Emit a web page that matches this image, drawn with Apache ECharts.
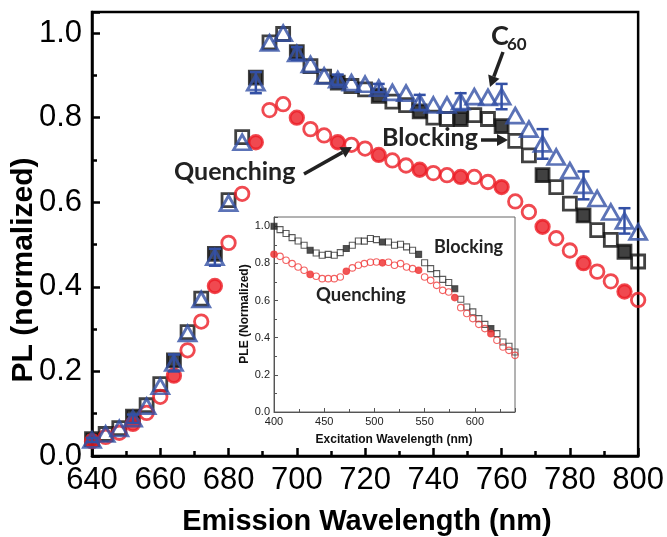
<!DOCTYPE html>
<html>
<head>
<meta charset="utf-8">
<script src="https://cdn.jsdelivr.net/npm/echarts@6.0.0/dist/echarts.min.js"></script>
<style>
  html, body { margin: 0; padding: 0; background: #fff; }
  #chart { width: 667px; height: 537px; }
</style>
</head>
<body>
<div id="chart"></div>
<script>
// emission spectra (main plot)
const emission = [640, 644, 648, 652, 656, 660, 664, 668, 672, 676, 680, 684, 688, 692, 696, 700, 704, 708, 712, 716, 720,
    724, 728, 732, 736, 740, 744, 748, 752, 756, 760, 764, 768, 772, 776, 780, 784, 788, 792, 796, 800];
const blocking = [0.040, 0.052, 0.066, 0.093, 0.120, 0.170, 0.226, 0.293, 0.372, 0.478, 0.605, 0.754, 0.895, 0.978, 0.998, 0.955, 0.922, 0.897, 0.883, 0.875, 0.867,
    0.852, 0.838, 0.830, 0.815, 0.800, 0.797, 0.797, 0.806, 0.797, 0.780, 0.745, 0.711, 0.664, 0.636, 0.597, 0.569, 0.534, 0.511, 0.483, 0.460];
const c60 = [0.038, 0.052, 0.065, 0.088, 0.118, 0.165, 0.220, 0.290, 0.370, 0.470, 0.598, 0.742, 0.883, 0.977, 1.000, 0.952, 0.926, 0.899, 0.890, 0.883, 0.879,
    0.870, 0.860, 0.858, 0.836, 0.830, 0.830, 0.838, 0.850, 0.848, 0.850, 0.805, 0.773, 0.738, 0.707, 0.675, 0.640, 0.609, 0.577, 0.556, 0.530];
const quenching = [0.035, 0.045, 0.055, 0.076, 0.102, 0.140, 0.190, 0.250, 0.318, 0.402, 0.504, 0.620, 0.742, 0.818, 0.832, 0.800, 0.773, 0.758, 0.742, 0.736, 0.727,
    0.712, 0.699, 0.687, 0.677, 0.669, 0.664, 0.660, 0.660, 0.648, 0.636, 0.602, 0.577, 0.542, 0.515, 0.486, 0.456, 0.436, 0.413, 0.389, 0.369];
// wavelengths that carry error bars (drawn as filled markers)
const errorAt = [640, 652, 664, 676, 688, 700, 712, 724, 736, 748, 760, 772, 784, 796];
const c60Err = [0.005, 0.010, 0.020, 0.020, 0.025, 0.015, 0.012, 0.010, 0.018, 0.020, 0.030, 0.035, 0.033, 0.030];

// excitation spectra (inset)
const excitation = [400, 406, 412, 418, 424, 430, 436, 442, 448, 454, 460, 466, 472, 478, 484, 490, 496, 502, 508, 514, 520,
    526, 532, 538, 544, 550, 556, 562, 568, 574, 580, 586, 592, 598, 604, 610, 616, 622, 628, 634, 640];
const pleBlocking = [1.000, 0.982, 0.961, 0.939, 0.921, 0.898, 0.871, 0.856, 0.844, 0.849, 0.844, 0.858, 0.880, 0.898, 0.921, 0.920, 0.934, 0.928, 0.915, 0.915, 0.898,
    0.903, 0.889, 0.871, 0.849, 0.804, 0.772, 0.745, 0.714, 0.697, 0.664, 0.607, 0.565, 0.539, 0.503, 0.472, 0.449, 0.422, 0.377, 0.354, 0.323];
const pleQuenching = [0.849, 0.838, 0.817, 0.799, 0.781, 0.763, 0.741, 0.731, 0.718, 0.718, 0.718, 0.727, 0.758, 0.776, 0.790, 0.799, 0.806, 0.808, 0.803, 0.806, 0.790,
    0.799, 0.781, 0.772, 0.763, 0.727, 0.709, 0.682, 0.655, 0.646, 0.616, 0.562, 0.530, 0.503, 0.472, 0.449, 0.422, 0.386, 0.350, 0.332, 0.305];
const pleErrorAt = [400, 436, 472, 508, 544, 580, 616];

const BLACK = '#111';
const BLUE = '#3350a5';
const RED = '#ec1c24';
const tickFont = '"Liberation Sans Narrow", "Liberation Sans"';
const noteFont = 'Lato';

const chart = echarts.init(document.getElementById('chart'), null, { renderer: 'canvas' });

let points = (xs, ys, marks, fill) => xs.map((x, i) => {
    let item = { value: [x, ys[i]] };
    if (marks.includes(x)) item.itemStyle = { color: fill };
    return item;
});

let errBars = (params, api) => {
    let x = api.value(0);
    let top = api.coord([x, api.value(2)]);
    let bot = api.coord([x, api.value(1)]);
    let st = { stroke: BLUE, lineWidth: 2.5 };
    return {
        type: 'group',
        children: [
            { type: 'line', shape: { x1: top[0], y1: top[1], x2: bot[0], y2: bot[1] }, style: st },
            { type: 'line', shape: { x1: top[0] - 6, y1: top[1], x2: top[0] + 6, y2: top[1] }, style: st },
            { type: 'line', shape: { x1: bot[0] - 6, y1: bot[1], x2: bot[0] + 6, y2: bot[1] }, style: st }
        ]
    };
};

let arrow = (x1, y1, x2, y2) => {
    let a = Math.atan2(y2 - y1, x2 - x1);
    let len = 11, hw = 6;
    let bx = x2 - len * Math.cos(a), by = y2 - len * Math.sin(a);
    let px = -Math.sin(a) * hw, py = Math.cos(a) * hw;
    return [
        { type: 'line', shape: { x1: x1, y1: y1, x2: bx, y2: by }, style: { stroke: '#222', lineWidth: 3.5 }, z: 50 },
        { type: 'polygon', shape: { points: [[x2, y2], [bx + px, by + py], [bx - px, by - py]] }, style: { fill: '#222' }, z: 50 }
    ];
};

let mainAxisCommon = {
    axisLine: { show: true, onZero: false, lineStyle: { color: '#000', width: 2.5 } },
    axisTick: { show: true, inside: true, length: 8, lineStyle: { color: '#000', width: 2.5 } },
    minorTick: { show: true, splitNumber: 2, length: 5, lineStyle: { color: '#000', width: 2.5 } },
    splitLine: { show: false },
    minorSplitLine: { show: false }
};

let insetAxisCommon = {
    axisLine: { show: true, onZero: false, lineStyle: { color: '#555', width: 1 } },
    axisTick: { show: true, inside: true, length: 4, lineStyle: { color: '#555', width: 1 } },
    minorTick: { show: true, splitNumber: 2, length: 3, lineStyle: { color: '#555', width: 1 } },
    splitLine: { show: false },
    minorSplitLine: { show: false }
};

const option = {
    backgroundColor: '#fff',
    animation: false,
    grid: [
        { left: 92, top: 12, right: 24, bottom: 81, show: true, borderColor: '#000', borderWidth: 2.5, backgroundColor: 'transparent' },
        { left: 274, top: 217, right: 152, bottom: 125, show: true, borderColor: '#666', borderWidth: 1, backgroundColor: '#fff' }
    ],
    xAxis: [
        Object.assign({
            type: 'value', gridIndex: 0, min: 640, max: 800, interval: 20,
            axisLabel: { fontFamily: tickFont, fontSize: 31, color: '#000', margin: 9 }
        }, mainAxisCommon),
        Object.assign({
            type: 'value', gridIndex: 1, min: 400, max: 640, interval: 50,
            axisLabel: { fontFamily: 'Liberation Sans', fontSize: 11, color: '#222', margin: 4, showMaxLabel: false }
        }, insetAxisCommon)
    ],
    yAxis: [
        Object.assign({
            type: 'value', gridIndex: 0, min: 0, max: 1.05, interval: 0.2,
            axisLabel: { fontFamily: tickFont, fontSize: 31, color: '#000', margin: 10, showMaxLabel: false,
                formatter: v => v.toFixed(1) }
        }, mainAxisCommon),
        Object.assign({
            type: 'value', gridIndex: 1, min: 0, max: 1.05, interval: 0.2,
            axisLabel: { fontFamily: 'Liberation Sans', fontSize: 11, color: '#222', margin: 4, showMaxLabel: false,
                formatter: v => v.toFixed(1) }
        }, insetAxisCommon)
    ],
    series: [
        {
            name: 'Blocking', type: 'scatter', xAxisIndex: 0, yAxisIndex: 0,
            symbol: 'rect', symbolSize: 13, z: 3,
            itemStyle: { color: 'rgba(255,255,255,0)', borderColor: BLACK, borderWidth: 2.8 },
            data: points(emission, blocking, errorAt, BLACK)
        },
        {
            name: 'Quenching', type: 'scatter', xAxisIndex: 0, yAxisIndex: 0,
            symbol: 'circle', symbolSize: 13.5, z: 3,
            itemStyle: { color: 'rgba(255,255,255,0)', borderColor: RED, borderWidth: 2.8 },
            data: points(emission, quenching, errorAt, RED)
        },
        {
            name: 'C60 err', type: 'custom', xAxisIndex: 0, yAxisIndex: 0, z: 4,
            renderItem: errBars,
            data: errorAt.map((x, i) => [x, c60[emission.indexOf(x)] - c60Err[i], c60[emission.indexOf(x)] + c60Err[i]])
        },
        {
            name: 'C60', type: 'scatter', xAxisIndex: 0, yAxisIndex: 0,
            symbol: 'triangle', symbolSize: [17, 15], z: 5,
            itemStyle: { color: 'rgba(255,255,255,0)', borderColor: BLUE, borderWidth: 2.8 },
            data: c60.map((v, i) => [emission[i], v])
        },
        {
            name: 'PLE Blocking', type: 'scatter', xAxisIndex: 1, yAxisIndex: 1,
            symbol: 'rect', symbolSize: 6, z: 6,
            itemStyle: { color: 'rgba(255,255,255,0)', borderColor: '#333', borderWidth: 1.1 },
            data: points(excitation, pleBlocking, pleErrorAt, '#222')
        },
        {
            name: 'PLE Quenching', type: 'scatter', xAxisIndex: 1, yAxisIndex: 1,
            symbol: 'circle', symbolSize: 6.5, z: 6,
            itemStyle: { color: 'rgba(255,255,255,0)', borderColor: '#f03c3c', borderWidth: 1.1 },
            data: points(excitation, pleQuenching, pleErrorAt, '#ee2a2a')
        }
    ],
    graphic: [
        { type: 'text', x: 24, y: 270, rotation: Math.PI / 2, z: 60,
          style: { text: 'PL (normalized)', font: 'bold 30px "Liberation Sans"', fill: '#000', align: 'center', verticalAlign: 'middle' } },
        { type: 'text', x: 367, y: 522, z: 60,
          style: { text: 'Emission Wavelength (nm)', font: 'bold 29px "Liberation Sans"', fill: '#000', align: 'center', verticalAlign: 'middle' } },
        { type: 'text', x: 245, y: 314, rotation: Math.PI / 2, z: 60,
          style: { text: 'PLE (Normalized)', font: 'bold 12px "Liberation Sans"', fill: '#111', align: 'center', verticalAlign: 'middle' } },
        { type: 'text', x: 394, y: 440, z: 60,
          style: { text: 'Excitation Wavelength (nm)', font: 'bold 12px "Liberation Sans"', fill: '#111', align: 'center', verticalAlign: 'middle' } },
        { type: 'text', x: 491, y: 36, z: 60,
          style: { text: 'C', font: 'bold 27px ' + noteFont, fill: '#222', align: 'left', verticalAlign: 'middle' } },
        { type: 'text', x: 507, y: 45, z: 60,
          style: { text: '60', font: 'bold 17px ' + noteFont, fill: '#222', align: 'left', verticalAlign: 'middle' } },
        { type: 'text', x: 382, y: 138, z: 60,
          style: { text: 'Blocking', font: 'bold 25px ' + noteFont, fill: '#222', align: 'left', verticalAlign: 'middle' } },
        { type: 'text', x: 174, y: 172, z: 60,
          style: { text: 'Quenching', font: 'bold 25px ' + noteFont, fill: '#222', align: 'left', verticalAlign: 'middle' } },
        { type: 'text', x: 434, y: 247, z: 60,
          style: { text: 'Blocking', font: 'bold 18px ' + noteFont, fill: '#222', align: 'left', verticalAlign: 'middle' } },
        { type: 'text', x: 316, y: 295, z: 60,
          style: { text: 'Quenching', font: 'bold 18.5px ' + noteFont, fill: '#222', align: 'left', verticalAlign: 'middle' } },
        ...arrow(503, 52, 490, 87),
        ...arrow(481, 140, 508, 140),
        ...arrow(304, 174, 352, 147)
    ]
};

chart.setOption(option);
window.addEventListener('resize', chart.resize);
</script>
</body>
</html>
